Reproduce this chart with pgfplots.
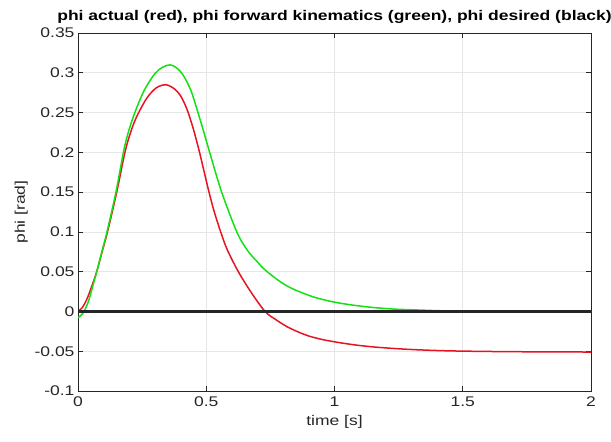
\documentclass[border=0pt]{standalone}
\usepackage{pgfplots}
\pgfplotsset{compat=1.18}
\usepackage{fontspec}
\setmainfont{Liberation Sans}[FakeStretch=1.25]
\usetikzlibrary{calc}
\definecolor{axgray}{RGB}{38,38,38}
\definecolor{gridgray}{RGB}{230,230,230}
\definecolor{mred}{RGB}{230,20,35}
\definecolor{mgreen}{RGB}{20,225,20}

\begin{document}
\begin{tikzpicture}
\begin{axis}[
  scale only axis,
  width=513pt, height=358pt,
  xmin=0, xmax=2, ymin=-0.1, ymax=0.35,
  xtick={0,0.5,1,1.5,2},
  ytick={-0.1,-0.05,0,0.05,0.1,0.15,0.2,0.25,0.3,0.35},
  /pgf/number format/fixed,
  /pgf/number format/precision=2,
  /pgf/number format/assume math mode=true,
  tick label style={font=\fontsize{14}{16}\selectfont, text=axgray},
  xticklabel style={yshift=-2pt},
  grid=major,
  grid style={gridgray, line width=0.6pt},
  axis line style={axgray, line width=0.6pt},
  tick style={axgray, line width=0.6pt},
  tick align=inside,
  major tick length=5pt,
  title={phi actual (red), phi forward kinematics (green), phi desired (black)},
  title style={font=\bfseries\fontsize{14}{16}\selectfont, at={(0.5,1)}, anchor=south, yshift=0pt},
  xlabel={time [s]},
  ylabel={phi [rad]},
  label style={font=\fontsize{14}{16}\selectfont, text=axgray},
  xlabel style={yshift=-2pt},
]
% red: actual
\addplot[mred, line width=1.5pt, smooth] coordinates {
  (0,0) (0.017,0.005) (0.034,0.015) (0.053,0.031) (0.073,0.05) (0.094,0.075)
  (0.115,0.1) (0.151,0.15) (0.183,0.2) (0.205,0.225) (0.229,0.245) (0.268,0.268)
  (0.305,0.281) (0.342,0.285) (0.375,0.280) (0.40,0.271) (0.425,0.254) (0.45,0.229)
  (0.473,0.201) (0.49,0.178) (0.507,0.155) (0.527,0.13) (0.55,0.106) (0.58,0.079)
  (0.625,0.05) (0.675,0.024) (0.729,0) (0.77,-0.010) (0.814,-0.019) (0.86,-0.026)
  (0.906,-0.0315) (0.96,-0.0358) (1.025,-0.0395) (1.09,-0.0425) (1.155,-0.0447)
  (1.23,-0.0465) (1.31,-0.048) (1.44,-0.0495) (1.6,-0.0503) (1.8,-0.0508) (2.0,-0.051)
};
% green: forward kinematics
\addplot[mgreen, line width=1.5pt, smooth] coordinates {
  (0,-0.008) (0.02,-0.002) (0.04,0.012) (0.056,0.03) (0.073,0.05) (0.093,0.075)
  (0.113,0.1) (0.148,0.15) (0.177,0.2) (0.195,0.224) (0.216,0.245) (0.24,0.265)
  (0.265,0.282) (0.30,0.299) (0.33,0.307) (0.359,0.310) (0.385,0.306) (0.41,0.297)
  (0.44,0.278) (0.463,0.255) (0.49,0.226) (0.516,0.197) (0.56,0.15) (0.619,0.1)
  (0.66,0.077) (0.70,0.062) (0.73,0.052) (0.79,0.037) (0.84,0.028) (0.92,0.018)
  (0.995,0.012) (1.07,0.008) (1.15,0.005) (1.23,0.003) (1.31,0.002) (1.4,0.001)
  (1.5,0.0003) (1.7,0) (2,0)
};
% black: desired
\addplot[black!85, line width=2.5pt] coordinates {(0,0) (2,0)};
\end{axis}
\pgfresetboundingbox
\path[use as bounding box] ($(current axis.south west)+(-78pt,-50pt)$) rectangle ($(current axis.north east)+(20pt,33pt)$);
\end{tikzpicture}
\end{document}
